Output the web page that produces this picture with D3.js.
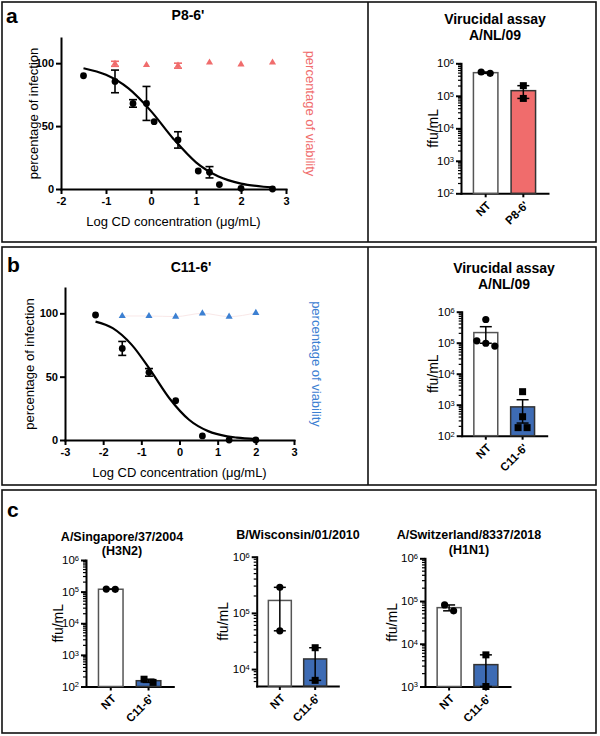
<!DOCTYPE html>
<html>
<head>
<meta charset="utf-8">
<script src="https://cdn.jsdelivr.net/npm/d3@7"></script>
<style>
  body { margin: 0; background: #fff; }
  svg { display: block; }
</style>
</head>
<body>
<div id="chart"></div>
<script>
// ---- panel a, dose response (P8-6') ----
const concA = [-1.5, -0.8, -0.4, -0.1, 0.07, 0.6, 1.05, 1.3, 1.52, 2.0, 2.7];
const infA = [90, 85.5, 68, 68, 53.5, 39, 14.3, 13.3, 3.5, 0.5, 0];
const infAErr = [0, 9, 3, 13.5, 0, 6.5, 0, 4.5, 0, 0, 0];
const viaConcA = [-0.8, -0.1, 0.6, 1.3, 2.0, 2.7];
const viaA = [99.5, 98.5, 98, 100.5, 99, 100.5];
const viaAErr = [2, 0, 2, 0, 0, 0];
const fitConcA = [-1.5, -1, -0.5, 0, 0.5, 1, 1.5, 2, 2.5, 2.7];
const fitA = [96, 90.7, 79.9, 61.9, 39.8, 21.2, 9.9, 4.3, 1.8, 1.25];

// ---- panel b, dose response (C11-6') ----
const concB = [-2.2, -1.5, -0.8, -0.1, 0.6, 1.3, 2.0];
const infB = [98.7, 72.3, 53.4, 31, 3.2, 0, 0];
const infBErr = [0, 5.5, 3, 0, 0, 0, 0];
const viaConcB = [-1.5, -0.8, -0.1, 0.6, 1.3, 2.0];
const viaB = [97.9, 97.9, 97.4, 100, 97.4, 100.4];
const viaBErr = [0, 0, 0, 0, 0, 0];
const fitConcB = [-2.2, -1.75, -1.25, -0.75, -0.25, 0.25, 0.75, 1.25, 1.5, 2.0];
const fitB = [93.5, 88.3, 75.1, 54.6, 32.4, 16, 7, 2.9, 1.9, 0.75];

const xTicksA = [-2, -1, 0, 1, 2, 3];
const xTicksB = [-3, -2, -1, 0, 1, 2, 3];
const yTicksInf = [0, 50, 100];

// ---- virucidal assays (ffu/mL replicates) ----
const catsP8 = ['NT', "P8-6'"];
const catsC11 = ['NT', "C11-6'"];
const virA_NT = [4.9e5, 5.4e5];
const virA_P8 = [2.05e5, 8.3e4];
const virB_NT = [5.6e5, 1.15e5, 9.6e4, 7.8e4];
const virB_C11 = [2630, 410, 182, 182];
const sing_NT = [1.18e5, 1.2e5];
const sing_C11 = [135, 170];
const wisc_NT = [2.85e5, 4.8e4];
const wisc_C11 = [2.4e4, 6300];
const swit_NT = [5.9e4, 8.1e4];
const swit_C11 = [5.5e3, 1.0e3];

const FONT = '"Liberation Sans", Arial, Helvetica, sans-serif';
const RED = '#F06C6C';
const BLUE_PT = '#3C80D2';
const BLUE_BAR = '#3D6BB4';

const svg = d3.select('#chart').append('svg')
  .attr('width', 600).attr('height', 736)
  .attr('font-family', FONT);

/*
* panelBox - outer frame of a panel, with optional divider
*/
function panelBox(y0, y1, divider) {
  svg.append('rect').attr('x', 2).attr('y', y0).attr('width', 594).attr('height', y1 - y0)
    .attr('fill', 'none').attr('stroke', '#111').attr('stroke-width', 1.6);
  if (divider) {
    svg.append('line').attr('x1', divider).attr('x2', divider).attr('y1', y0).attr('y2', y1)
      .attr('stroke', '#111').attr('stroke-width', 1.6);
  }
}

function label(txt, x, y, size, weight, anchor, fill) {
  return svg.append('text').attr('x', x).attr('y', y).attr('font-size', size)
    .attr('font-weight', weight || 'normal').attr('text-anchor', anchor || 'middle')
    .attr('fill', fill || '#000').text(txt);
}

function vLabel(txt, cx, cy, size, angle, fill) {
  svg.append('text').attr('transform', `translate(${cx},${cy}) rotate(${angle})`)
    .attr('text-anchor', 'middle').attr('dy', '0.35em').attr('font-size', size)
    .attr('fill', fill || '#000').text(txt);
}

function styleAxis(a, size, weight) {
  a.attr('font-family', FONT).attr('font-size', size).attr('font-weight', weight);
  a.selectAll('path, line').attr('stroke', '#000').attr('stroke-width', 2);
  a.select('.domain').attr('stroke-linecap', 'square');
  a.selectAll('text').attr('fill', '#000');
}

function errBars(g, xs, ys, es, x, y, cap, color) {
  const d = xs.map((v, i) => ({ x: v, y: ys[i], e: es[i] })).filter(p => p.e > 0);
  const eg = g.append('g').attr('stroke', color).attr('stroke-width', 1.6);
  d.forEach(p => {
    const cx = x(p.x);
    eg.append('line').attr('x1', cx).attr('x2', cx).attr('y1', y(p.y - p.e)).attr('y2', y(p.y + p.e));
    [p.y - p.e, p.y + p.e].forEach(v => {
      eg.append('line').attr('x1', cx - cap / 2).attr('x2', cx + cap / 2).attr('y1', y(v)).attr('y2', y(v));
    });
  });
}

/*
* drawDose - percentage of infection / viability vs log concentration
*/
function drawDose(o) {
  const g = svg.append('g');
  const x = d3.scaleLinear().domain(o.xDomain).range([o.left, o.right]);
  const y = d3.scaleLinear().domain([0, 120]).range([o.bottom, o.top]);

  const xa = g.append('g').attr('transform', `translate(0,${o.bottom})`)
    .call(d3.axisBottom(x).tickValues(o.xTicks).tickSize(5).tickSizeOuter(0).tickPadding(3).tickFormat(d => String(d)));
  const ya = g.append('g').attr('transform', `translate(${o.left},0)`)
    .call(d3.axisLeft(y).tickValues(yTicksInf).tickSize(5).tickSizeOuter(0).tickPadding(2));
  styleAxis(xa, 11, 'bold');
  styleAxis(ya, 11, 'bold');

  if (o.faint) {
    g.append('path').datum(o.viaConc.map((c, i) => [c, o.via[i]]))
      .attr('fill', 'none').attr('stroke', '#f9e8e8').attr('stroke-width', 1)
      .attr('d', d3.line().x(d => x(d[0])).y(d => y(d[1])).curve(d3.curveMonotoneX));
  }

  g.append('path').datum(o.fitConc.map((c, i) => [c, o.fit[i]]))
    .attr('fill', 'none').attr('stroke', '#000').attr('stroke-width', 2.2)
    .attr('d', d3.line().x(d => x(d[0])).y(d => y(d[1])).curve(d3.curveMonotoneX));

  errBars(g, o.conc, o.inf, o.err, x, y, 8, '#000');
  g.selectAll('circle.inf').data(o.conc).join('circle').attr('class', 'inf')
    .attr('cx', d => x(d)).attr('cy', (d, i) => y(o.inf[i])).attr('r', 3.4).attr('fill', '#000');

  errBars(g, o.viaConc, o.via, o.viaErr, x, y, 8, o.color);
  g.selectAll('path.via').data(o.viaConc).join('path').attr('class', 'via')
    .attr('transform', (d, i) => `translate(${x(d)},${y(o.via[i])})`)
    .attr('d', d3.symbol(d3.symbolTriangle, 22)).attr('fill', o.color);

  label(o.title, o.titleX, o.titleY, 14, 'bold');
  vLabel('percentage of infection', o.yTitleX, (o.top + o.bottom) / 2, 13, -90);
  vLabel('percentage of viability', o.rTitleX, (o.top + o.bottom) / 2, 13, 90, o.color);
  label('Log CD concentration (\u03bcg/mL)', (o.left + o.right) / 2, o.bottom + 37, 13);
}

// spread replicate markers that would overlap
function spread(vals, y, gap) {
  const idx = vals.map((v, i) => i).sort((a, b) => y(vals[a]) - y(vals[b]));
  const offs = vals.map(() => 0);
  let cl = [idx[0]];
  const flush = () => cl.forEach((k, j) => { offs[k] = (j - (cl.length - 1) / 2) * gap; });
  for (let i = 1; i < idx.length; i++) {
    if (Math.abs(y(vals[idx[i]]) - y(vals[cl[cl.length - 1]])) < 7) cl.push(idx[i]);
    else { flush(); cl = [idx[i]]; }
  }
  flush();
  return offs;
}

/*
* drawBars - log-scale bar chart, mean +/- SEM with replicates
*/
function drawBars(o) {
  const g = svg.append('g');
  const x = d3.scaleBand().domain(o.cats).range([o.left, o.right]).paddingInner(0.35).paddingOuter(0.33);
  const y = d3.scaleLog().domain(o.yDomain).range([o.bottom, o.top]);

  const lo = Math.floor(Math.log10(o.yDomain[0]));
  const hi = Math.ceil(Math.log10(o.yDomain[1]));
  const decades = d3.range(lo, hi + 1).map(e => 10 ** e).filter(v => v >= o.yDomain[0] && v <= o.yDomain[1]);
  const minor = [];
  for (let e = lo; e < hi; e++) {
    for (let m = 2; m <= 9; m++) {
      const v = m * 10 ** e;
      if (v > o.yDomain[0] && v < o.yDomain[1]) minor.push(v);
    }
  }
  g.selectAll('line.minor').data(minor).join('line').attr('class', 'minor')
    .attr('x1', o.left - 3).attr('x2', o.left).attr('y1', d => y(d)).attr('y2', d => y(d))
    .attr('stroke', '#000').attr('stroke-width', 1.2);

  const ya = g.append('g').attr('transform', `translate(${o.left},0)`)
    .call(d3.axisLeft(y).tickValues(decades).tickSize(5).tickSizeOuter(0).tickPadding(2));
  styleAxis(ya, 11.5, 'normal');
  ya.selectAll('.tick text').each(function (d) {
    const t = d3.select(this).text(null);
    t.append('tspan').text('10');
    t.append('tspan').attr('dy', '-0.45em').attr('font-size', 7.5).text(Math.round(Math.log10(d)));
  });

  const xa = g.append('g').attr('transform', `translate(0,${o.bottom})`)
    .call(d3.axisBottom(x).tickSize(4).tickSizeOuter(0));
  styleAxis(xa, 11.5, 'bold');
  xa.selectAll('.tick text').attr('x', 0).attr('y', 0).attr('dy', '0.35em')
    .attr('text-anchor', 'end').attr('transform', 'translate(3,10) rotate(-45)');

  o.data.forEach((vals, i) => {
    const c = o.cats[i];
    const m = d3.mean(vals);
    const sem = d3.deviation(vals) / Math.sqrt(vals.length);
    const bx = x(c), bw = x.bandwidth(), cx = bx + bw / 2;
    g.append('rect').attr('x', bx).attr('y', y(m)).attr('width', bw).attr('height', o.bottom - y(m))
      .attr('fill', o.fills[i]).attr('stroke', i === 0 ? '#555' : '#333').attr('stroke-width', 1.5);
    const eg = g.append('g').attr('stroke', '#000').attr('stroke-width', 1.5);
    const lo2 = Math.max(m - sem, o.yDomain[0]);
    eg.append('line').attr('x1', cx).attr('x2', cx).attr('y1', y(lo2)).attr('y2', y(m + sem));
    [m - sem, m + sem].filter(v => v >= o.yDomain[0]).forEach(v => {
      eg.append('line').attr('x1', cx - 6).attr('x2', cx + 6).attr('y1', y(v)).attr('y2', y(v));
    });
    const offs = spread(vals, y, 9);
    vals.forEach((v, k) => {
      if (i === 0) {
        g.append('circle').attr('cx', cx + offs[k]).attr('cy', y(v)).attr('r', 3.6).attr('fill', '#000');
      } else {
        g.append('rect').attr('x', cx + offs[k] - 3.5).attr('y', y(v) - 3.5)
          .attr('width', 7).attr('height', 7).attr('fill', '#000');
      }
    });
  });

  o.titles.forEach((t, i) => label(t, o.titleX, o.titleY + i * o.titleGap, o.titleSize, 'bold'));
  vLabel('ffu/mL', o.yTitleX, (o.top + o.bottom) / 2, 14, -90);
}

// ---------- frames ----------
panelBox(2, 242, 368);
panelBox(247, 485, 368);
panelBox(490, 733, null);
label('a', 6, 23, 21, 'bold', 'start');
label('b', 7, 271.5, 21, 'bold', 'start');
label('c', 7, 517, 21, 'bold', 'start');

// ---------- panel a ----------
drawDose({
  left: 61, right: 286, top: 38, bottom: 189, xDomain: [-2, 3], xTicks: xTicksA,
  conc: concA, inf: infA, err: infAErr, viaConc: viaConcA, via: viaA, viaErr: viaAErr,
  fitConc: fitConcA, fit: fitA, color: RED, title: "P8-6'", titleX: 188, titleY: 20,
  yTitleX: 33, rTitleX: 311, faint: false
});
drawBars({
  left: 461, right: 548, top: 63.3, bottom: 193.3, yDomain: [1e2, 1e6],
  cats: catsP8, data: [virA_NT, virA_P8], fills: ['#fff', RED],
  titles: ['Virucidal assay', 'A/NL/09'], titleX: 495, titleY: 23.5, titleGap: 16.5, titleSize: 14,
  yTitleX: 433
});

// ---------- panel b ----------
drawDose({
  left: 65, right: 294, top: 288, bottom: 440, xDomain: [-3, 3], xTicks: xTicksB,
  conc: concB, inf: infB, err: infBErr, viaConc: viaConcB, via: viaB, viaErr: viaBErr,
  fitConc: fitConcB, fit: fitB, color: BLUE_PT, title: "C11-6'", titleX: 191, titleY: 271.5,
  yTitleX: 29, rTitleX: 317, faint: true
});
drawBars({
  left: 461.7, right: 546.7, top: 311.7, bottom: 435.7, yDomain: [1e2, 1e6],
  cats: catsC11, data: [virB_NT, virB_C11], fills: ['#fff', BLUE_BAR],
  titles: ['Virucidal assay', 'A/NL/09'], titleX: 504, titleY: 273.3, titleGap: 16, titleSize: 14,
  yTitleX: 433
});

// ---------- panel c ----------
drawBars({
  left: 86, right: 173.3, top: 560, bottom: 686.5, yDomain: [1e2, 1e6],
  cats: catsC11, data: [sing_NT, sing_C11], fills: ['#fff', BLUE_BAR],
  titles: ['A/Singapore/37/2004', '(H3N2)'], titleX: 122, titleY: 541, titleGap: 14, titleSize: 12.5,
  yTitleX: 58
});
drawBars({
  left: 256.7, right: 338.3, top: 556.7, bottom: 686, yDomain: [5e3, 1e6],
  cats: catsC11, data: [wisc_NT, wisc_C11], fills: ['#fff', BLUE_BAR],
  titles: ['B/Wisconsin/01/2010'], titleX: 298, titleY: 539, titleGap: 14, titleSize: 12.5,
  yTitleX: 223
});
drawBars({
  left: 425, right: 510, top: 558.3, bottom: 686.5, yDomain: [1e3, 1e6],
  cats: catsC11, data: [swit_NT, swit_C11], fills: ['#fff', BLUE_BAR],
  titles: ['A/Switzerland/8337/2018', '(H1N1)'], titleX: 469, titleY: 539, titleGap: 14.5, titleSize: 12.5,
  yTitleX: 392
});
</script>
</body>
</html>
